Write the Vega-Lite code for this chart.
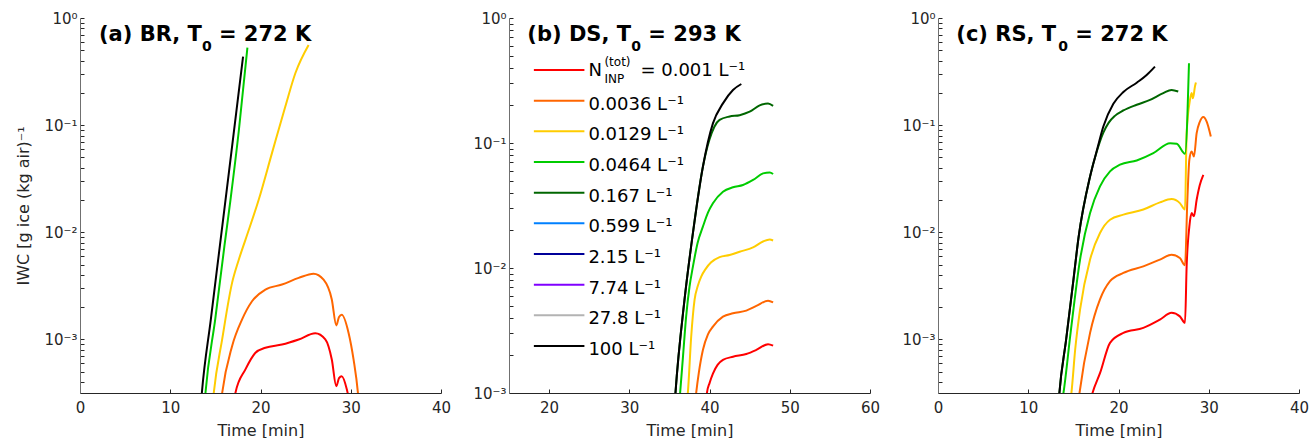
{
  "$schema": "https://vega.github.io/schema/vega-lite/v6.json",
  "background": "white",
  "padding": {"left": 15, "top": 11, "right": 0, "bottom": 0},
  "spacing": 68,
  "bounds": "flush",
  "config": {
    "view": {"stroke": null},
    "font": "DejaVu Sans",
    "text": {"font": "DejaVu Sans"},
    "axis": {
      "labelFont": "DejaVu Sans", "labelFontSize": 15, "labelColor": "#262626",
      "titleFont": "DejaVu Sans", "titleFontSize": 16, "titleFontWeight": "normal", "titleColor": "#262626",
      "domainColor": "#262626", "tickColor": "#262626", "tickSize": -4, "grid": false,
      "labelFlush": false, "labelOverlap": false
    }
  },
  "datasets": {
    "curves": [
      {"panel":"a","series":"0.001","t":17.0,"iwc":0.00025},{"panel":"a","series":"0.001","t":17.22,"iwc":0.000316},{"panel":"a","series":"0.001","t":18.33,"iwc":0.000525},{"panel":"a","series":"0.001","t":19.44,"iwc":0.00075},{"panel":"a","series":"0.001","t":20.54,"iwc":0.000836},{"panel":"a","series":"0.001","t":22.38,"iwc":0.000895},{"panel":"a","series":"0.001","t":24.23,"iwc":0.000998},{"panel":"a","series":"0.001","t":26.07,"iwc":0.00114},{"panel":"a","series":"0.001","t":27.18,"iwc":0.001},{"panel":"a","series":"0.001","t":27.9,"iwc":0.00065},{"panel":"a","series":"0.001","t":28.4,"iwc":0.000366},{"panel":"a","series":"0.001","t":28.7,"iwc":0.000435},{"panel":"a","series":"0.001","t":29.0,"iwc":0.000454},{"panel":"a","series":"0.001","t":29.57,"iwc":0.000341},{"panel":"a","series":"0.001","t":29.9,"iwc":0.00025},
      {"panel":"a","series":"0.0036","t":15.6,"iwc":0.00025},{"panel":"a","series":"0.0036","t":15.75,"iwc":0.000316},{"panel":"a","series":"0.0036","t":16.85,"iwc":0.000865},{"panel":"a","series":"0.0036","t":17.95,"iwc":0.00153},{"panel":"a","series":"0.0036","t":19.06,"iwc":0.00227},{"panel":"a","series":"0.0036","t":20.54,"iwc":0.00292},{"panel":"a","series":"0.0036","t":22.38,"iwc":0.00325},{"panel":"a","series":"0.0036","t":24.23,"iwc":0.00375},{"panel":"a","series":"0.0036","t":25.88,"iwc":0.00411},{"panel":"a","series":"0.0036","t":26.99,"iwc":0.00361},{"panel":"a","series":"0.0036","t":27.9,"iwc":0.00236},{"panel":"a","series":"0.0036","t":28.4,"iwc":0.00135},{"panel":"a","series":"0.0036","t":28.7,"iwc":0.00162},{"panel":"a","series":"0.0036","t":29.0,"iwc":0.0017},{"panel":"a","series":"0.0036","t":29.76,"iwc":0.00115},{"panel":"a","series":"0.0036","t":30.31,"iwc":0.00065},{"panel":"a","series":"0.0036","t":30.79,"iwc":0.00032},{"panel":"a","series":"0.0036","t":30.9,"iwc":0.00025},
      {"panel":"a","series":"0.0129","t":14.7,"iwc":0.00025},{"panel":"a","series":"0.0129","t":14.82,"iwc":0.000316},{"panel":"a","series":"0.0129","t":15.75,"iwc":0.001},{"panel":"a","series":"0.0129","t":16.85,"iwc":0.00337},{"panel":"a","series":"0.0129","t":17.55,"iwc":0.0054},{"panel":"a","series":"0.0129","t":18.33,"iwc":0.0085},{"panel":"a","series":"0.0129","t":19.8,"iwc":0.0201},{"panel":"a","series":"0.0129","t":21.27,"iwc":0.0548},{"panel":"a","series":"0.0129","t":22.75,"iwc":0.149},{"panel":"a","series":"0.0129","t":23.86,"iwc":0.305},{"panel":"a","series":"0.0129","t":25.33,"iwc":0.56},
      {"panel":"a","series":"0.0464","t":13.8,"iwc":0.00025},{"panel":"a","series":"0.0464","t":13.9,"iwc":0.000316},{"panel":"a","series":"0.0464","t":15.0,"iwc":0.00158},{"panel":"a","series":"0.0464","t":16.0,"iwc":0.00741},{"panel":"a","series":"0.0464","t":16.67,"iwc":0.02},{"panel":"a","series":"0.0464","t":17.6,"iwc":0.0891},{"panel":"a","series":"0.0464","t":18.55,"iwc":0.528},
      {"panel":"a","series":"100","t":13.4,"iwc":0.00025},{"panel":"a","series":"100","t":13.5,"iwc":0.000316},{"panel":"a","series":"100","t":14.5,"iwc":0.00155},{"panel":"a","series":"100","t":15.5,"iwc":0.0075},{"panel":"a","series":"100","t":16.5,"iwc":0.0363},{"panel":"a","series":"100","t":17.3,"iwc":0.129},{"panel":"a","series":"100","t":18.07,"iwc":0.437},

      {"panel":"b","series":"0.001","t":39.6,"iwc":0.0009},{"panel":"b","series":"0.001","t":39.67,"iwc":0.001},{"panel":"b","series":"0.001","t":40.0,"iwc":0.0012},{"panel":"b","series":"0.001","t":40.42,"iwc":0.00143},{"panel":"b","series":"0.001","t":41.0,"iwc":0.00168},{"panel":"b","series":"0.001","t":41.67,"iwc":0.00184},{"panel":"b","series":"0.001","t":42.92,"iwc":0.00195},{"panel":"b","series":"0.001","t":44.58,"iwc":0.00205},{"panel":"b","series":"0.001","t":45.83,"iwc":0.00221},{"panel":"b","series":"0.001","t":47.29,"iwc":0.00246},{"panel":"b","series":"0.001","t":47.92,"iwc":0.00239},
      {"panel":"b","series":"0.0036","t":38.25,"iwc":0.0009},{"panel":"b","series":"0.0036","t":38.33,"iwc":0.001},{"panel":"b","series":"0.0036","t":38.66,"iwc":0.00145},{"panel":"b","series":"0.0036","t":39.17,"iwc":0.00221},{"panel":"b","series":"0.0036","t":39.8,"iwc":0.00295},{"panel":"b","series":"0.0036","t":40.42,"iwc":0.0034},{"panel":"b","series":"0.0036","t":41.67,"iwc":0.00408},{"panel":"b","series":"0.0036","t":42.92,"iwc":0.00434},{"panel":"b","series":"0.0036","t":44.58,"iwc":0.00456},{"panel":"b","series":"0.0036","t":45.83,"iwc":0.00497},{"panel":"b","series":"0.0036","t":47.29,"iwc":0.00548},{"panel":"b","series":"0.0036","t":47.92,"iwc":0.00531},
      {"panel":"b","series":"0.0129","t":37.22,"iwc":0.0009},{"panel":"b","series":"0.0129","t":37.29,"iwc":0.001},{"panel":"b","series":"0.0129","t":37.71,"iwc":0.00282},{"panel":"b","series":"0.0129","t":38.13,"iwc":0.00555},{"panel":"b","series":"0.0129","t":38.55,"iwc":0.00724},{"panel":"b","series":"0.0129","t":38.96,"iwc":0.00853},{"panel":"b","series":"0.0129","t":39.5,"iwc":0.0098},{"panel":"b","series":"0.0129","t":40.2,"iwc":0.0111},{"panel":"b","series":"0.0129","t":41.25,"iwc":0.0122},{"panel":"b","series":"0.0129","t":42.5,"iwc":0.0127},{"panel":"b","series":"0.0129","t":43.75,"iwc":0.0135},{"panel":"b","series":"0.0129","t":45.42,"iwc":0.0146},{"panel":"b","series":"0.0129","t":46.67,"iwc":0.0163},{"panel":"b","series":"0.0129","t":47.5,"iwc":0.0169},{"panel":"b","series":"0.0129","t":47.92,"iwc":0.0166},
      {"panel":"b","series":"0.0464","t":36.27,"iwc":0.0009},{"panel":"b","series":"0.0464","t":36.33,"iwc":0.001},{"panel":"b","series":"0.0464","t":36.7,"iwc":0.002},{"panel":"b","series":"0.0464","t":37.08,"iwc":0.00408},{"panel":"b","series":"0.0464","t":37.5,"iwc":0.00708},{"panel":"b","series":"0.0464","t":37.92,"iwc":0.0102},{"panel":"b","series":"0.0464","t":38.5,"iwc":0.0158},{"panel":"b","series":"0.0464","t":39.17,"iwc":0.0214},{"panel":"b","series":"0.0464","t":39.8,"iwc":0.0277},{"panel":"b","series":"0.0464","t":40.42,"iwc":0.0329},{"panel":"b","series":"0.0464","t":41.67,"iwc":0.0408},{"panel":"b","series":"0.0464","t":42.92,"iwc":0.0442},{"panel":"b","series":"0.0464","t":44.17,"iwc":0.0461},{"panel":"b","series":"0.0464","t":45.42,"iwc":0.0506},{"panel":"b","series":"0.0464","t":46.67,"iwc":0.0571},{"panel":"b","series":"0.0464","t":47.5,"iwc":0.0582},{"panel":"b","series":"0.0464","t":47.92,"iwc":0.0565},
      {"panel":"b","series":"0.167","t":35.7,"iwc":0.0009},{"panel":"b","series":"0.167","t":35.75,"iwc":0.001},{"panel":"b","series":"0.167","t":36.875,"iwc":0.00555},{"panel":"b","series":"0.167","t":37.92,"iwc":0.0189},{"panel":"b","series":"0.167","t":39.17,"iwc":0.0646},{"panel":"b","series":"0.167","t":40.0,"iwc":0.107},{"panel":"b","series":"0.167","t":40.6,"iwc":0.135},{"panel":"b","series":"0.167","t":41.25,"iwc":0.153},{"panel":"b","series":"0.167","t":42.5,"iwc":0.163},{"panel":"b","series":"0.167","t":43.75,"iwc":0.167},{"panel":"b","series":"0.167","t":45.0,"iwc":0.178},{"panel":"b","series":"0.167","t":46.25,"iwc":0.2},{"panel":"b","series":"0.167","t":47.29,"iwc":0.207},{"panel":"b","series":"0.167","t":47.92,"iwc":0.198},
      {"panel":"b","series":"100","t":35.7,"iwc":0.0009},{"panel":"b","series":"100","t":35.75,"iwc":0.001},{"panel":"b","series":"100","t":36.875,"iwc":0.00555},{"panel":"b","series":"100","t":37.92,"iwc":0.0189},{"panel":"b","series":"100","t":39.17,"iwc":0.0646},{"panel":"b","series":"100","t":40.42,"iwc":0.1435},{"panel":"b","series":"100","t":41.67,"iwc":0.2075},{"panel":"b","series":"100","t":42.92,"iwc":0.2655},{"panel":"b","series":"100","t":43.96,"iwc":0.2965},

      {"panel":"c","series":"0.001","t":17.0,"iwc":0.00029},{"panel":"c","series":"0.001","t":17.12,"iwc":0.000316},{"panel":"c","series":"0.001","t":17.97,"iwc":0.000489},{"panel":"c","series":"0.001","t":19.06,"iwc":0.000929},{"panel":"c","series":"0.001","t":20.54,"iwc":0.00115},{"panel":"c","series":"0.001","t":22.75,"iwc":0.00128},{"panel":"c","series":"0.001","t":24.59,"iwc":0.00153},{"panel":"c","series":"0.001","t":25.88,"iwc":0.00177},{"panel":"c","series":"0.001","t":26.8,"iwc":0.00164},{"panel":"c","series":"0.001","t":27.37,"iwc":0.00143},{"panel":"c","series":"0.001","t":27.55,"iwc":0.00481},{"panel":"c","series":"0.001","t":27.85,"iwc":0.0113},{"panel":"c","series":"0.001","t":28.1,"iwc":0.0151},{"panel":"c","series":"0.001","t":28.36,"iwc":0.0141},{"panel":"c","series":"0.001","t":28.66,"iwc":0.0201},{"panel":"c","series":"0.001","t":29.0,"iwc":0.0275},{"panel":"c","series":"0.001","t":29.4,"iwc":0.0344},
      {"panel":"c","series":"0.0036","t":15.6,"iwc":0.00028},{"panel":"c","series":"0.0036","t":15.68,"iwc":0.000316},{"panel":"c","series":"0.0036","t":16.85,"iwc":0.00115},{"panel":"c","series":"0.0036","t":17.95,"iwc":0.00236},{"panel":"c","series":"0.0036","t":19.06,"iwc":0.00349},{"panel":"c","series":"0.0036","t":20.54,"iwc":0.00417},{"panel":"c","series":"0.0036","t":22.75,"iwc":0.00481},{"panel":"c","series":"0.0036","t":24.59,"iwc":0.00556},{"panel":"c","series":"0.0036","t":25.88,"iwc":0.00618},{"panel":"c","series":"0.0036","t":26.8,"iwc":0.00575},{"panel":"c","series":"0.0036","t":27.37,"iwc":0.00492},{"panel":"c","series":"0.0036","t":27.63,"iwc":0.0201},{"panel":"c","series":"0.0036","t":27.85,"iwc":0.0475},{"panel":"c","series":"0.0036","t":28.1,"iwc":0.0568},{"panel":"c","series":"0.0036","t":28.36,"iwc":0.0509},{"panel":"c","series":"0.0036","t":28.66,"iwc":0.0841},{"panel":"c","series":"0.0036","t":29.0,"iwc":0.107},{"panel":"c","series":"0.0036","t":29.4,"iwc":0.119},{"panel":"c","series":"0.0036","t":29.77,"iwc":0.108},{"panel":"c","series":"0.0036","t":30.23,"iwc":0.0783},
      {"panel":"c","series":"0.0129","t":14.7,"iwc":0.00028},{"panel":"c","series":"0.0129","t":14.78,"iwc":0.000316},{"panel":"c","series":"0.0129","t":15.2,"iwc":0.000805},{"panel":"c","series":"0.0129","t":15.74,"iwc":0.0019},{"panel":"c","series":"0.0129","t":16.85,"iwc":0.00556},{"panel":"c","series":"0.0129","t":17.95,"iwc":0.00984},{"panel":"c","series":"0.0129","t":19.06,"iwc":0.0131},{"panel":"c","series":"0.0129","t":20.54,"iwc":0.0146},{"panel":"c","series":"0.0129","t":22.75,"iwc":0.0163},{"panel":"c","series":"0.0129","t":24.59,"iwc":0.019},{"panel":"c","series":"0.0129","t":25.88,"iwc":0.0204},{"panel":"c","series":"0.0129","t":26.8,"iwc":0.0187},{"panel":"c","series":"0.0129","t":27.37,"iwc":0.0163},{"panel":"c","series":"0.0129","t":27.55,"iwc":0.0841},{"panel":"c","series":"0.0129","t":27.92,"iwc":0.172},{"panel":"c","series":"0.0129","t":28.1,"iwc":0.199},{"panel":"c","series":"0.0129","t":28.25,"iwc":0.178},{"panel":"c","series":"0.0129","t":28.47,"iwc":0.229},{"panel":"c","series":"0.0129","t":28.58,"iwc":0.25},
      {"panel":"c","series":"0.0464","t":13.8,"iwc":0.00028},{"panel":"c","series":"0.0464","t":13.9,"iwc":0.000316},{"panel":"c","series":"0.0464","t":14.69,"iwc":0.00115},{"panel":"c","series":"0.0464","t":15.74,"iwc":0.00556},{"panel":"c","series":"0.0464","t":16.85,"iwc":0.0151},{"panel":"c","series":"0.0464","t":17.95,"iwc":0.0268},{"panel":"c","series":"0.0464","t":19.06,"iwc":0.037},{"panel":"c","series":"0.0464","t":20.17,"iwc":0.0427},{"panel":"c","series":"0.0464","t":22.02,"iwc":0.0468},{"panel":"c","series":"0.0464","t":23.86,"iwc":0.0548},{"panel":"c","series":"0.0464","t":25.72,"iwc":0.0679},{"panel":"c","series":"0.0464","t":26.45,"iwc":0.067},{"panel":"c","series":"0.0464","t":27.37,"iwc":0.0541},{"panel":"c","series":"0.0464","t":27.81,"iwc":0.378},
      {"panel":"c","series":"0.167","t":13.4,"iwc":0.00028},{"panel":"c","series":"0.167","t":13.45,"iwc":0.000316},{"panel":"c","series":"0.167","t":14.2,"iwc":0.001},{"panel":"c","series":"0.167","t":15.0,"iwc":0.00355},{"panel":"c","series":"0.167","t":15.57,"iwc":0.0089},{"panel":"c","series":"0.167","t":16.85,"iwc":0.0332},{"panel":"c","series":"0.167","t":17.6,"iwc":0.057},{"panel":"c","series":"0.167","t":18.32,"iwc":0.085},{"panel":"c","series":"0.167","t":18.9,"iwc":0.105},{"panel":"c","series":"0.167","t":19.6,"iwc":0.122},{"panel":"c","series":"0.167","t":20.54,"iwc":0.137},{"panel":"c","series":"0.167","t":22.02,"iwc":0.155},{"panel":"c","series":"0.167","t":23.49,"iwc":0.172},{"panel":"c","series":"0.167","t":24.96,"iwc":0.199},{"panel":"c","series":"0.167","t":25.88,"iwc":0.213},{"panel":"c","series":"0.167","t":26.62,"iwc":0.206},
      {"panel":"c","series":"100","t":13.4,"iwc":0.00028},{"panel":"c","series":"100","t":13.45,"iwc":0.000316},{"panel":"c","series":"100","t":14.2,"iwc":0.001},{"panel":"c","series":"100","t":15.0,"iwc":0.00355},{"panel":"c","series":"100","t":15.57,"iwc":0.0089},{"panel":"c","series":"100","t":16.85,"iwc":0.0332},{"panel":"c","series":"100","t":17.6,"iwc":0.058},{"panel":"c","series":"100","t":18.32,"iwc":0.097},{"panel":"c","series":"100","t":19.43,"iwc":0.158},{"panel":"c","series":"100","t":20.54,"iwc":0.204},{"panel":"c","series":"100","t":22.02,"iwc":0.249},{"panel":"c","series":"100","t":23.12,"iwc":0.294},{"panel":"c","series":"100","t":24.04,"iwc":0.352}
    ],
    "legend": [
      {"series":"0.001","label":"N"},
      {"series":"0.0036","label":"0.0036 L⁻¹"},
      {"series":"0.0129","label":"0.0129 L⁻¹"},
      {"series":"0.0464","label":"0.0464 L⁻¹"},
      {"series":"0.167","label":"0.167 L⁻¹"},
      {"series":"0.599","label":"0.599 L⁻¹"},
      {"series":"2.15","label":"2.15 L⁻¹"},
      {"series":"7.74","label":"7.74 L⁻¹"},
      {"series":"27.8","label":"27.8 L⁻¹"},
      {"series":"100","label":"100 L⁻¹"}
    ]
  },
  "hconcat": [
    {
      "width": 361, "height": 375,
      "layer": [
        {
          "data": {"name": "curves"},
          "transform": [{"filter": "datum.panel == 'a'"}],
          "mark": {"type": "line", "clip": true, "strokeWidth": 2, "interpolate": "monotone"},
          "encoding": {
            "x": {"field": "t", "type": "quantitative", "scale": {"domain": [0, 40], "nice": false},
                  "axis": {"values": [0, 10, 20, 30, 40], "title": "Time [min]", "labelPadding": 11, "titlePadding": 7}},
            "y": {"field": "iwc", "type": "quantitative", "scale": {"type": "log", "domain": [0.000316, 1], "nice": false},
                  "axis": {"values": [0.0004,0.0005,0.0006,0.0007,0.0008,0.0009,0.001,0.002,0.003,0.004,0.005,0.006,0.007,0.008,0.009,0.01,0.02,0.03,0.04,0.05,0.06,0.07,0.08,0.09,0.1,0.2,0.3,0.4,0.5,0.6,0.7,0.8,0.9,1],
                           "labelExpr": "datum.value == 1 ? '10⁰' : datum.value == 0.1 ? '10⁻¹' : datum.value == 0.01 ? '10⁻²' : datum.value == 0.001 ? '10⁻³' : ''",
                           "title": "IWC [g ice (kg air)⁻¹", "titlePadding": 12, "labelPadding": 7, "domainColor": "#707070"}},
            "color": {"field": "series", "type": "nominal", "legend": null,
                      "scale": {"domain": ["0.001","0.0036","0.0129","0.0464","0.167","0.599","2.15","7.74","27.8","100"],
                                "range": ["#ff0000","#ff6600","#ffcc00","#00cc00","#006600","#0080ff","#000099","#8000ff","#b3b3b3","#000000"]}}
          }
        },
        {"data": {"values": [{}]}, "mark": {"type": "text", "align": "left", "baseline": "alphabetic", "fontSize": 21, "fontWeight": "bold"},
         "encoding": {"x": {"datum": 2.1}, "y": {"datum": 0.61}, "text": {"value": "(a) BR, T"}}},
        {"data": {"values": [{}]}, "mark": {"type": "text", "align": "left", "baseline": "alphabetic", "fontSize": 14, "fontWeight": "bold", "dx": 103, "dy": 10},
         "encoding": {"x": {"datum": 2.1}, "y": {"datum": 0.61}, "text": {"value": "0"}}},
        {"data": {"values": [{}]}, "mark": {"type": "text", "align": "left", "baseline": "alphabetic", "fontSize": 21, "fontWeight": "bold", "dx": 120},
         "encoding": {"x": {"datum": 2.1}, "y": {"datum": 0.61}, "text": {"value": "= 272 K"}}}
      ]
    },
    {
      "width": 361, "height": 375,
      "layer": [
        {
          "layer": [
            {
              "data": {"name": "curves"},
              "transform": [{"filter": "datum.panel == 'b'"}],
              "mark": {"type": "line", "clip": true, "strokeWidth": 2, "interpolate": "monotone"},
              "encoding": {
                "x": {"field": "t", "type": "quantitative", "scale": {"domain": [15, 60], "nice": false},
                      "axis": {"values": [20, 30, 40, 50, 60], "title": "Time [min]", "labelPadding": 11, "titlePadding": 7}},
                "y": {"field": "iwc", "type": "quantitative", "scale": {"type": "log", "domain": [0.001, 1], "nice": false},
                      "axis": {"values": [0.001,0.002,0.003,0.004,0.005,0.006,0.007,0.008,0.009,0.01,0.02,0.03,0.04,0.05,0.06,0.07,0.08,0.09,0.1,0.2,0.3,0.4,0.5,0.6,0.7,0.8,0.9,1],
                               "labelExpr": "datum.value == 1 ? '10⁰' : datum.value == 0.1 ? '10⁻¹' : datum.value == 0.01 ? '10⁻²' : datum.value == 0.001 ? '10⁻³' : ''",
                               "title": null, "labelPadding": 7, "domainColor": "#707070"}},
                "color": {"field": "series", "type": "nominal", "legend": null,
                          "scale": {"domain": ["0.001","0.0036","0.0129","0.0464","0.167","0.599","2.15","7.74","27.8","100"],
                                    "range": ["#ff0000","#ff6600","#ffcc00","#00cc00","#006600","#0080ff","#000099","#8000ff","#b3b3b3","#000000"]}}
              }
            },
            {"data": {"values": [{}]}, "mark": {"type": "text", "align": "left", "baseline": "alphabetic", "fontSize": 21, "fontWeight": "bold"},
             "encoding": {"x": {"datum": 17.29}, "y": {"datum": 0.655}, "text": {"value": "(b) DS, T"}}},
            {"data": {"values": [{}]}, "mark": {"type": "text", "align": "left", "baseline": "alphabetic", "fontSize": 14, "fontWeight": "bold", "dx": 104, "dy": 10},
             "encoding": {"x": {"datum": 17.29}, "y": {"datum": 0.655}, "text": {"value": "0"}}},
            {"data": {"values": [{}]}, "mark": {"type": "text", "align": "left", "baseline": "alphabetic", "fontSize": 21, "fontWeight": "bold", "dx": 121},
             "encoding": {"x": {"datum": 17.29}, "y": {"datum": 0.655}, "text": {"value": "= 293 K"}}}
          ]
        },
        {
          "data": {"name": "legend"},
          "encoding": {
            "y": {"field": "label", "type": "nominal", "sort": null, "axis": null,
                  "scale": {"type": "point", "range": [52, 328], "padding": 0}}
          },
          "layer": [
            {"mark": {"type": "rule", "strokeWidth": 2},
             "encoding": {"x": {"datum": 18.1}, "x2": {"datum": 24.4},
                          "color": {"field": "series", "type": "nominal", "legend": null,
                                    "scale": {"domain": ["0.001","0.0036","0.0129","0.0464","0.167","0.599","2.15","7.74","27.8","100"],
                                              "range": ["#ff0000","#ff6600","#ffcc00","#00cc00","#006600","#0080ff","#000099","#8000ff","#b3b3b3","#000000"]}}}},
            {"transform": [{"filter": "datum.series != '0.001'"}],
             "mark": {"type": "text", "align": "left", "baseline": "middle", "fontSize": 18, "dy": 4, "color": "#000000"},
             "encoding": {"x": {"datum": 24.9}, "text": {"field": "label"}}},
            {"transform": [{"filter": "datum.series == '0.001'"}],
             "mark": {"type": "text", "align": "left", "baseline": "middle", "fontSize": 18, "dy": 1, "color": "#000000"},
             "encoding": {"x": {"datum": 24.9}, "text": {"value": "N"}}},
            {"transform": [{"filter": "datum.series == '0.001'"}],
             "mark": {"type": "text", "align": "left", "baseline": "middle", "fontSize": 12, "dx": 16, "dy": -8, "color": "#000000"},
             "encoding": {"x": {"datum": 24.9}, "text": {"value": "(tot)"}}},
            {"transform": [{"filter": "datum.series == '0.001'"}],
             "mark": {"type": "text", "align": "left", "baseline": "middle", "fontSize": 12, "dx": 16, "dy": 9, "color": "#000000"},
             "encoding": {"x": {"datum": 24.9}, "text": {"value": "INP"}}},
            {"transform": [{"filter": "datum.series == '0.001'"}],
             "mark": {"type": "text", "align": "left", "baseline": "middle", "fontSize": 18, "dx": 52, "dy": 1, "color": "#000000"},
             "encoding": {"x": {"datum": 24.9}, "text": {"value": "= 0.001 L⁻¹"}}}
          ]
        }
      ],
      "resolve": {"scale": {"y": "independent"}, "axis": {"y": "independent"}}
    },
    {
      "width": 361, "height": 375,
      "layer": [
        {
          "data": {"name": "curves"},
          "transform": [{"filter": "datum.panel == 'c'"}],
          "mark": {"type": "line", "clip": true, "strokeWidth": 2, "interpolate": "monotone"},
          "encoding": {
            "x": {"field": "t", "type": "quantitative", "scale": {"domain": [0, 40], "nice": false},
                  "axis": {"values": [0, 10, 20, 30, 40], "title": "Time [min]", "labelPadding": 11, "titlePadding": 7}},
            "y": {"field": "iwc", "type": "quantitative", "scale": {"type": "log", "domain": [0.000316, 1], "nice": false},
                  "axis": {"values": [0.0004,0.0005,0.0006,0.0007,0.0008,0.0009,0.001,0.002,0.003,0.004,0.005,0.006,0.007,0.008,0.009,0.01,0.02,0.03,0.04,0.05,0.06,0.07,0.08,0.09,0.1,0.2,0.3,0.4,0.5,0.6,0.7,0.8,0.9,1],
                           "labelExpr": "datum.value == 1 ? '10⁰' : datum.value == 0.1 ? '10⁻¹' : datum.value == 0.01 ? '10⁻²' : datum.value == 0.001 ? '10⁻³' : ''",
                           "title": null, "labelPadding": 7, "domainColor": "#707070"}},
            "color": {"field": "series", "type": "nominal", "legend": null,
                      "scale": {"domain": ["0.001","0.0036","0.0129","0.0464","0.167","0.599","2.15","7.74","27.8","100"],
                                "range": ["#ff0000","#ff6600","#ffcc00","#00cc00","#006600","#0080ff","#000099","#8000ff","#b3b3b3","#000000"]}}
          }
        },
        {"data": {"values": [{}]}, "mark": {"type": "text", "align": "left", "baseline": "alphabetic", "fontSize": 21, "fontWeight": "bold"},
         "encoding": {"x": {"datum": 2.03}, "y": {"datum": 0.61}, "text": {"value": "(c) RS, T"}}},
        {"data": {"values": [{}]}, "mark": {"type": "text", "align": "left", "baseline": "alphabetic", "fontSize": 14, "fontWeight": "bold", "dx": 102, "dy": 10},
         "encoding": {"x": {"datum": 2.03}, "y": {"datum": 0.61}, "text": {"value": "0"}}},
        {"data": {"values": [{}]}, "mark": {"type": "text", "align": "left", "baseline": "alphabetic", "fontSize": 21, "fontWeight": "bold", "dx": 119},
         "encoding": {"x": {"datum": 2.03}, "y": {"datum": 0.61}, "text": {"value": "= 272 K"}}}
      ]
    }
  ]
}
